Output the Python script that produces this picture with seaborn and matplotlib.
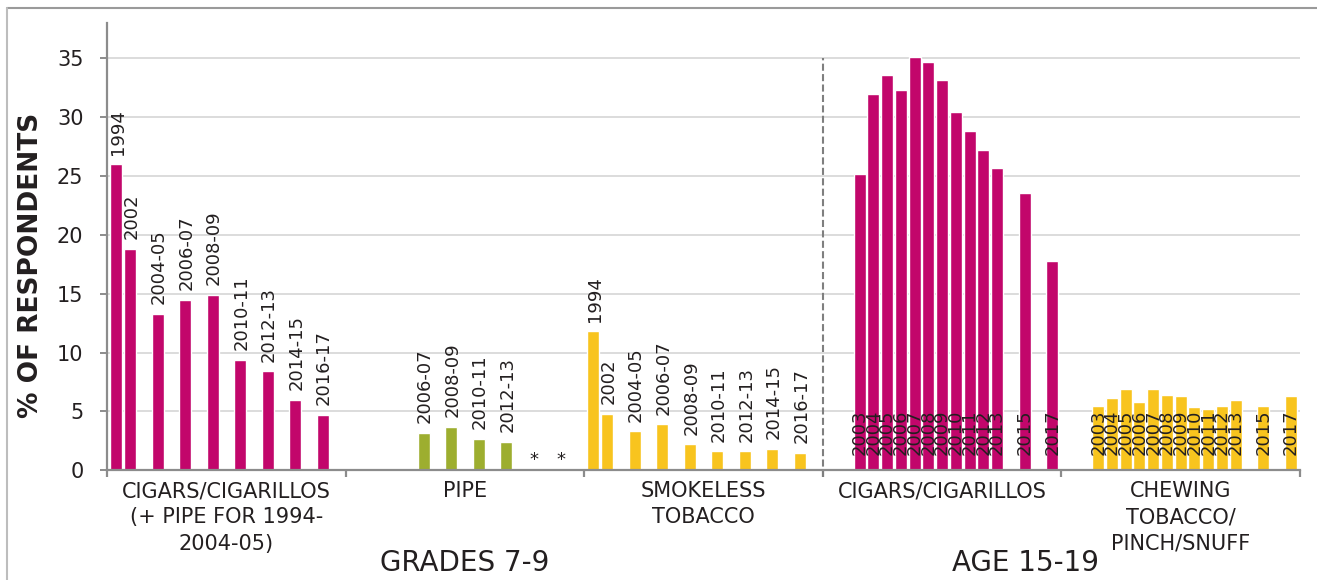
import numpy as np
import pandas as pd
import matplotlib
matplotlib.use('Agg')
import matplotlib.pyplot as plt
import matplotlib.transforms as mtransforms
from matplotlib.lines import Line2D
import seaborn as sns

# ---- data ----
categories = ['CIGARS/CIGARILLOS\n(+ PIPE FOR 1994-\n2004-05)', 'PIPE', 'SMOKELESS\nTOBACCO',
              'CIGARS/CIGARILLOS', 'CHEWING\nTOBACCO/\nPINCH/SNUFF']

# slots along the axis inside one category ('' = empty column)
grade_axis = ['1994', '2002', '', '2004-05', '', '2006-07', '', '2008-09', '', '2010-11', '',
              '2012-13', '', '2014-15', '', '2016-17', '']
age_axis = [str(y) for y in range(2001, 2018)]

grade_labels = ['1994', '2002', '2004-05', '2006-07', '2008-09', '2010-11', '2012-13', '2014-15', '2016-17']
cigars_grades = [26.0, 18.8, 13.3, 14.5, 14.9, 9.4, 8.4, 6.0, 4.7]
pipe_grades = [np.nan, np.nan, np.nan, 3.2, 3.7, 2.7, 2.4, np.nan, np.nan]
pipe_suppressed = ['2014-15', '2016-17']  # shown as *
smokeless_grades = [11.8, 4.8, 3.3, 3.9, 2.2, 1.6, 1.6, 1.8, 1.5]

age_labels = ['2003', '2004', '2005', '2006', '2007', '2008', '2009', '2010', '2011', '2012', '2013', '2015', '2017']
cigars_age = [25.2, 32.0, 33.6, 32.3, 35.1, 34.7, 33.2, 30.4, 28.8, 27.2, 25.7, 23.6, 17.8]
chewing_age = [5.5, 6.1, 6.9, 5.8, 6.9, 6.4, 6.3, 5.4, 5.2, 5.5, 6.0, 5.5, 6.3]

magenta = '#C2066B'
green = '#9DAE2F'
yellow = '#F8C41E'
txt = '#231F20'
grey = '#8C8C8C'

sns.set_theme(style='white')
plt.rcParams['font.family'] = ['DejaVu Sans']

fig = plt.figure(figsize=(13.17, 5.8), dpi=100)
ax = fig.add_axes([107 / 1317, (580 - 470.3) / 580, (1300 - 107) / 1317, (470.3 - 23) / 580])

hue_order = ['s%02d' % i for i in range(len(age_axis))]

series = [
    (categories[0], grade_labels, cigars_grades, grade_axis, magenta, 'above'),
    (categories[1], grade_labels, pipe_grades, grade_axis, green, 'above'),
    (categories[2], grade_labels, smokeless_grades, grade_axis, yellow, 'above'),
    (categories[3], age_labels, cigars_age, age_axis, magenta, 'inside'),
    (categories[4], age_labels, chewing_age, age_axis, yellow, 'inside'),
]

for cat, labels, values, slots, color, where in series:
    rows = []
    for lab, v in zip(labels, values):
        if np.isnan(v):
            if cat == categories[1] and lab in pipe_suppressed:
                rows.append({'category': cat, 'slot': 's%02d' % slots.index(lab), 'value': 0.0, 'label': '*'})
            continue
        rows.append({'category': cat, 'slot': 's%02d' % slots.index(lab), 'value': v, 'label': lab})
    d = pd.DataFrame(rows).sort_values('slot')
    n0 = len(ax.patches)
    sns.barplot(data=d, x='category', y='value', hue='slot', order=categories, hue_order=hue_order,
                palette={h: color for h in hue_order}, saturation=1, width=0.98, gap=0.13,
                errorbar=None, legend=False, ax=ax)
    for p, (_, r) in zip(ax.patches[n0:], d.iterrows()):
        xc = p.get_x() + p.get_width() / 2
        if r['label'] == '*':
            ax.annotate('*', (xc, 0), xytext=(0, 1), textcoords='offset points',
                        ha='center', va='bottom', fontsize=13, color=txt)
        elif where == 'above':
            ax.annotate(r['label'], (xc, p.get_height()), xytext=(1, 7), textcoords='offset points',
                        rotation=90, ha='center', va='bottom', fontsize=13, color=txt)
        else:
            ax.annotate(r['label'], (xc, 0), xytext=(0, 11), textcoords='offset points',
                        rotation=90, ha='center', va='bottom', fontsize=13, color=txt)

ax.set_xlim(-0.5, 4.5)
ax.set_ylim(0, 38)
ax.set_yticks(range(0, 36, 5))
ax.yaxis.grid(True, color='#D9D9D9', lw=1.3)
ax.set_axisbelow(True)
for s in ['top', 'right']:
    ax.spines[s].set_visible(False)
for s in ['left', 'bottom']:
    ax.spines[s].set_color(grey)
    ax.spines[s].set_linewidth(1.6)

ax.set_xticks(range(len(categories)))
ax.set_xticklabels(categories, fontsize=15, color=txt, linespacing=1.38, va='top')
ax.set_xticks(np.arange(-0.5, len(categories)), minor=True)
ax.tick_params(axis='x', which='major', length=0, pad=8)
ax.tick_params(axis='x', which='minor', length=5, width=1.6, color=grey, direction='out', bottom=True)
ax.tick_params(axis='y', left=True, length=5, width=1.4, color=grey, pad=12, labelsize=15, labelcolor=txt)
ax.set_xlabel('')
ax.set_ylabel('% OF RESPONDENTS', fontsize=19, fontweight='bold', color=txt)
ax.yaxis.set_label_coords(-0.053, 0.459)

# divider between the two survey groups
ax.axvline(2.5, ymin=-0.015, ymax=35 / 38, color='#7F7F7F', lw=1.5, ls=(0, (3.4, 1.6)), clip_on=False)

trans = mtransforms.blended_transform_factory(ax.transData, fig.transFigure)
ax.text(1, (580 - 563) / 580, 'GRADES 7-9', transform=trans, ha='center', va='center', fontsize=20, color=txt)
ax.text(3.35, (580 - 563) / 580, 'AGE 15-19', transform=trans, ha='center', va='center', fontsize=20, color=txt)

# outer frame (top and left edges)
fig.add_artist(Line2D([7 / 1317, 1], [1 - 8 / 580, 1 - 8 / 580], color='#9A9A9A', lw=1.5))
fig.add_artist(Line2D([7 / 1317, 7 / 1317], [0, 1 - 8 / 580], color='#BDBDBD', lw=1.5))

fig.savefig('out.png', dpi=100)
